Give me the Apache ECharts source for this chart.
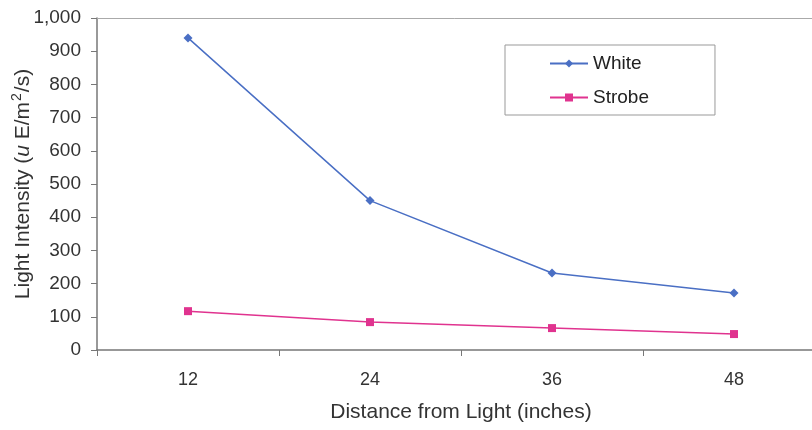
<!DOCTYPE html>
<html><head><meta charset="utf-8">
<script src="https://cdn.jsdelivr.net/npm/echarts@6/dist/echarts.min.js"></script>
<style>html,body{margin:0;padding:0;background:#fff}#c{width:812px;height:430px}</style>
</head><body><div id="c"></div>
<script>
const categories = ['12', '24', '36', '48'];
const whiteValues = [940, 450, 232, 172];
const strobeValues = [117, 84, 66, 48];
const seriesNames = ['White', 'Strobe'];
const xTitle = 'Distance from Light (inches)';
const yTitleParts = ['Light Intensity (', 'u', ' E/m', '2', '/s)'];

const font = 'Liberation Sans, Arial, sans-serif';
const yTitle = '{n|' + yTitleParts[0] + '}{i|' + yTitleParts[1] + '}{n|' + yTitleParts[2] +
  '}{s|' + yTitleParts[3] + '}{n|' + yTitleParts[4] + '}';
const chart = echarts.init(document.getElementById('c'));
chart.setOption({
  backgroundColor: '#fff',
  animation: false,
  textStyle: { fontFamily: font },
  grid: { left: 97, top: 18, width: 728, height: 332, containLabel: false, outerBoundsMode: 'none' },
  legend: {
    orient: 'vertical', left: 505, top: 45, width: 207,
    padding: [9, 66, 8, 44],
    itemGap: 15, itemWidth: 38, itemHeight: 10,
    borderColor: '#999', borderWidth: 1,
    textStyle: { fontSize: 19, color: '#222', fontFamily: font },
    data: seriesNames
  },
  xAxis: [{
    type: 'category', data: categories, boundaryGap: true,
    axisLine: { lineStyle: { color: '#777', width: 1.5 } },
    axisTick: { show: true, length: 6, lineStyle: { color: '#777' } },
    axisLabel: { fontSize: 18, color: '#333', margin: 21, fontFamily: font },
    name: xTitle, nameLocation: 'middle', nameGap: 52, nameMoveOverlap: false,
    nameTextStyle: { fontSize: 21, color: '#333', fontFamily: font }
  }, {
    type: 'category', data: categories, position: 'top',
    axisLine: { show: true, lineStyle: { color: '#aaa', width: 1 } },
    axisTick: { show: false }, axisLabel: { show: false }
  }],
  yAxis: {
    type: 'value', min: 0, max: 1000, interval: 100,
    axisLine: { show: true, lineStyle: { color: '#777', width: 1.5 } },
    axisTick: { show: true, length: 6, lineStyle: { color: '#777' } },
    splitLine: { show: false },
    axisLabel: {
      fontSize: 19, color: '#333', margin: 16, fontFamily: font,
      formatter: v => v.toLocaleString('en-US')
    },
    name: yTitle, nameLocation: 'middle', nameGap: 63, nameRotate: 90, nameMoveOverlap: false,
    nameTextStyle: {
      fontSize: 21, color: '#333', fontFamily: font,
      rich: {
        n: { fontSize: 21, color: '#333', fontFamily: font, verticalAlign: 'bottom', lineHeight: 24 },
        i: { fontSize: 21, color: '#333', fontFamily: font, fontStyle: 'italic', verticalAlign: 'bottom', lineHeight: 24 },
        s: { fontSize: 14, color: '#333', fontFamily: font, verticalAlign: 'top', lineHeight: 24, padding: [0, 1, 0, 1] }
      }
    }
  },
  series: [{
    name: seriesNames[0], type: 'line', data: whiteValues, xAxisIndex: 0,
    symbol: 'diamond', symbolSize: 9,
    lineStyle: { color: '#4a6fc4', width: 1.5 },
    itemStyle: { color: '#4a6fc4' }
  }, {
    name: seriesNames[1], type: 'line', data: strobeValues, xAxisIndex: 0,
    symbol: 'rect', symbolSize: 8,
    lineStyle: { color: '#e0338f', width: 1.5 },
    itemStyle: { color: '#e0338f' }
  }]
});
</script></body></html>
